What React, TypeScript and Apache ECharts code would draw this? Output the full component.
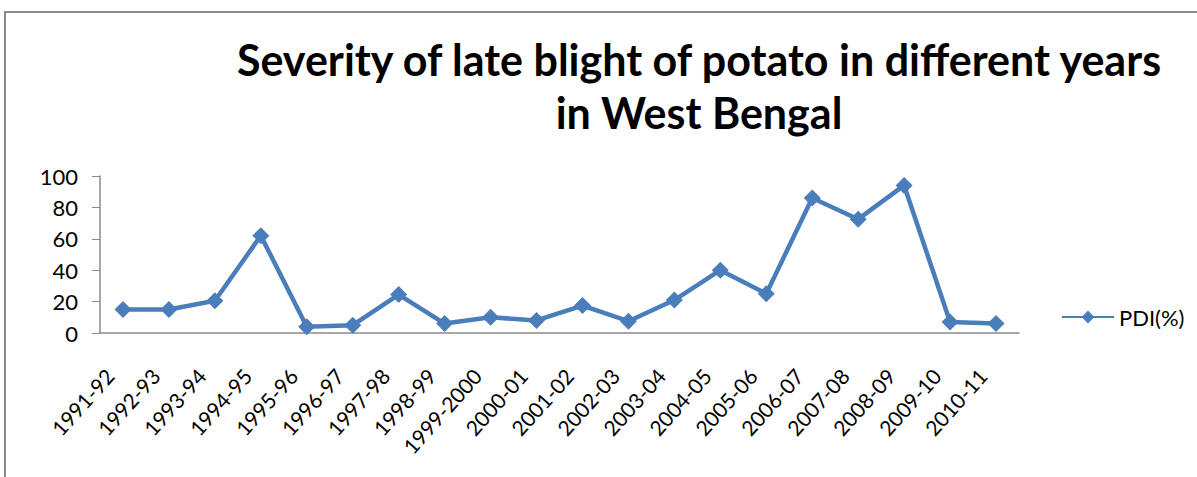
import React, { useEffect, useRef } from "react";
import * as echarts from "echarts";

const categories = [
  "1991-92", "1992-93", "1993-94", "1994-95", "1995-96", "1996-97", "1997-98",
  "1998-99", "1999-2000", "2000-01", "2001-02", "2002-03", "2003-04", "2004-05",
  "2005-06", "2006-07", "2007-08", "2008-09", "2009-10", "2010-11",
];
const pdiValues = [15, 15, 20.5, 62, 4, 5, 24.5, 6, 10, 8, 17.5, 7.5, 21, 40, 25, 86, 72.5, 94, 7, 6];
const seriesName = "PDI(%)";
const titleText = "Severity of late blight of potato in different years\nin West Bengal";

export default function App() {
  const ref = useRef<HTMLDivElement>(null);
  useEffect(() => {
    if (!ref.current) return;
    const chart = echarts.init(ref.current, null, { renderer: "svg" });
    const font = "Lato, 'Open Sans', sans-serif";
    chart.setOption({
      animation: false,
      backgroundColor: "#ffffff",
      title: {
        text: titleText,
        left: 694,
        top: 28,
        textAlign: "center",
        textStyle: {
          fontFamily: font,
          fontWeight: "bold",
          fontSize: 43,
          lineHeight: 53,
          color: "#000000",
        },
      },
      graphic: [
        {
          type: "rect",
          shape: { x: 5, y: 12, width: 1200, height: 480 },
          style: { fill: "none", stroke: "#8a8a8a", lineWidth: 2 },
          silent: true,
        },
      ],
      legend: {
        data: [seriesName],
        left: 1056,
        top: 301,
        itemWidth: 52,
        itemHeight: 16,
        itemGap: 4,
        textStyle: { fontFamily: font, fontSize: 22, color: "#000000" },
      },
      grid: { left: 100, right: 178, top: 176, bottom: 144, containLabel: false },
      xAxis: {
        type: "category",
        data: categories,
        boundaryGap: true,
        axisLine: { lineStyle: { color: "#8a8a8a", width: 1.5 } },
        axisTick: { length: 7, lineStyle: { color: "#8a8a8a" }, alignWithLabel: false },
        axisLabel: {
          rotate: 48,
          interval: 0,
          margin: 24,
          padding: [0, 20, 0, 0],
          fontFamily: font,
          fontSize: 21,
          color: "#000000",
        },
      },
      yAxis: {
        type: "value",
        min: 0,
        max: 100,
        interval: 20,
        splitLine: { show: false },
        axisLine: { show: true, lineStyle: { color: "#8a8a8a", width: 1.5 } },
        axisTick: { show: true, length: 8, lineStyle: { color: "#8a8a8a" } },
        axisLabel: { fontFamily: font, fontSize: 22, color: "#000000", margin: 22 },
      },
      series: [
        {
          name: seriesName,
          type: "line",
          data: pdiValues,
          symbol: "diamond",
          symbolSize: 17,
          color: "#4a7ebb",
          lineStyle: { color: "#4a7ebb", width: 4.5 },
          itemStyle: { color: "#4a7ebb" },
        },
      ],
    });
    return () => chart.dispose();
  }, []);
  return (
    <div
      ref={ref}
      style={{ position: "fixed", left: 0, top: 0, width: 1197, height: 477 }}
    />
  );
}
